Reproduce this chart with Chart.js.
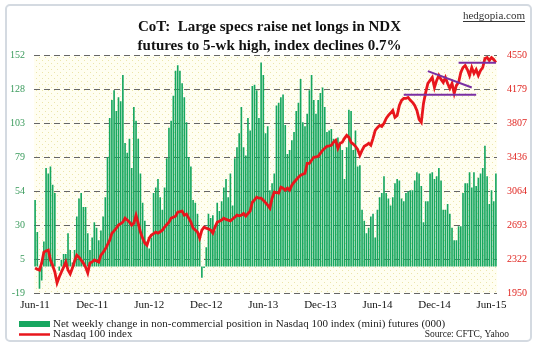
<!DOCTYPE html>
<html>
<head>
<meta charset="utf-8">
<script src="https://cdn.jsdelivr.net/npm/chart.js@4.4.1/dist/chart.umd.min.js"></script>
<style>
  html, body { margin: 0; padding: 0; background: #ffffff; }
  #wrap { width: 539px; height: 350px; }
</style>
</head>
<body>
<div id="wrap"><canvas id="cotChart" width="539" height="350"></canvas></div>
<script>
// weekly CoT report dates (Tuesdays), first one 7 Jun 2011
const firstWeek = [2011, 5, 7];

// net weekly change in non-commercial position, NDX mini futures (000)
const netSpecs = [
  48, 25, -16, -10, 18, 71, 67, 72, 59, 53,
  0, -3, 5, 9, 9, 24, 12, 3, 12, 36,
  49, 53, 43, 43, 24, 12, 21, 32, 28, 19,
  26, 36, 50, 79, 107, 120, 127, 112, 122, 119,
  138, 89, 82, 92, 71, 115, 105, 92, 67, 46,
  33, 18, 13, 21, 53, 57, 63, 50, 41, 57,
  78, 100, 105, 123, 141, 145, 141, 132, 122, 104,
  79, 72, 48, 46, 38, 21, -8, -1, 14, 38,
  35, 37, 26, 46, 40, 47, 57, 63, 50, 67,
  44, 78, 86, 96, 115, 86, 80, 107, 98, 130,
  131, 127, 107, 147, 138, 96, 101, 55, 60, 67,
  116, 118, 122, 124, 102, 81, 84, 91, 97, 112,
  118, 135, 104, 101, 110, 127, 138, 120, 110, 120,
  125, 129, 115, 97, 98, 99, 92, 89, 93, 89,
  84, 63, 86, 113, 112, 84, 98, 72, 73, 41,
  33, 24, 28, 36, 38, 21, 41, 50, 53, 65,
  53, 49, 44, 50, 60, 63, 62, 49, 47, 53,
  54, 55, 55, 62, 68, 67, 58, 32, 47, 47,
  67, 68, 63, 65, 71, 62, 41, 41, 45, 38,
  28, 19, 19, 29, 29, 53, 60, 60, 68, 57,
  68, 58, 64, 67, 71, 87, 65, 45, 55, 47,
  67
];

// Nasdaq 100 index, weekly
const ndxIndex = [
  2223, 2210, 2201, 2278, 2398, 2410, 2420, 2311, 2250, 2180,
  2060, 2125, 2180, 2234, 2289, 2201, 2158, 2223, 2300, 2365,
  2343, 2310, 2278, 2234, 2169, 2278, 2290, 2311, 2300, 2289,
  2365, 2395, 2430, 2480, 2529, 2605, 2630, 2660, 2693, 2710,
  2726, 2769, 2750, 2726, 2693, 2715, 2802, 2715, 2617, 2550,
  2496, 2474, 2551, 2584, 2600, 2617, 2605, 2620, 2638, 2671,
  2700, 2726, 2769, 2780, 2791, 2835, 2840, 2846, 2802, 2813,
  2770, 2726, 2660, 2640, 2617, 2551, 2638, 2671, 2660, 2650,
  2638, 2605, 2671, 2726, 2735, 2748, 2769, 2755, 2748, 2740,
  2760, 2780, 2802, 2795, 2802, 2820, 2791, 2820, 2846, 2944,
  2970, 2999, 2988, 2988, 2966, 2940, 2911, 2879, 2988, 3054,
  3050, 3043, 3108, 3097, 3076, 3097, 3076, 3130, 3163, 3190,
  3217, 3239, 3250, 3261, 3370, 3370, 3403, 3436, 3440, 3447,
  3479, 3512, 3534, 3556, 3560, 3567, 3600, 3621, 3534, 3589,
  3600, 3643, 3676, 3654, 3600, 3580, 3556, 3523, 3458, 3512,
  3556, 3570, 3589, 3567, 3643, 3731, 3760, 3785, 3774, 3807,
  3862, 3894, 3920, 3949, 3873, 3894, 4004, 4058, 4080, 4080,
  4091, 4060, 4037, 4004, 3949, 3850, 3818, 4026, 4146, 4244,
  4277, 4310, 4200, 4277, 4332, 4288, 4255, 4310, 4244, 4190,
  4244, 4135, 4223, 4255, 4364, 4419, 4441, 4397, 4332, 4419,
  4354, 4397, 4332, 4386, 4419, 4517, 4528, 4495, 4528, 4506,
  4473
];

// hand-drawn trend lines on the index: [week from, value, week to, value]
const supportLine = [168, 4120, 201, 4120];
const downTrendLine = [179, 4379, 199, 4200];
const topLine = [193, 4470, 210, 4470];

const leftTicks = [-19, 5, 30, 54, 79, 103, 128, 152];
const rightTicks = [1950, 2322, 2693, 3064, 3436, 3807, 4179, 4550];
const xTickLabels = ['Jun-11', 'Dec-11', 'Jun-12', 'Dec-12', 'Jun-13', 'Dec-13', 'Jun-14', 'Dec-14', 'Jun-15'];

const monthNames = ['Jan', 'Feb', 'Mar', 'Apr', 'May', 'Jun', 'Jul', 'Aug', 'Sep', 'Oct', 'Nov', 'Dec'];

const weeks = netSpecs.map((v, i) =>
  new Date(Date.UTC(firstWeek[0], firstWeek[1], firstWeek[2] + i * 7)).toISOString().slice(0, 10));

function monthLabel(iso) {
  const d = new Date(iso + 'T00:00:00Z');
  return monthNames[d.getUTCMonth()] + '-' + String(d.getUTCFullYear()).slice(2);
}

function segment(line) {
  return [{ x: weeks[line[0]], y: line[1] }, { x: weeks[line[2]], y: line[3] }];
}

const colorGreen = '#17a760';
const colorRed = '#e8161c';
const colorPurple = '#7a2fa2';

function dotPattern(ctx) {
  const c = document.createElement('canvas');
  c.width = 6; c.height = 6;
  const p = c.getContext('2d');
  p.fillStyle = '#fffef1';
  p.fillRect(0, 0, 6, 6);
  p.fillStyle = '#ece5ab';
  p.fillRect(0, 0, 1, 1);
  p.fillRect(3, 3, 1, 1);
  return ctx.createPattern(c, 'repeat');
}

// frame, dotted plot background, legend and notes
const decorations = {
  id: 'decorations',
  beforeDraw(chart) {
    const { ctx, chartArea: a, width, height } = chart;
    ctx.save();
    ctx.fillStyle = '#ffffff';
    ctx.fillRect(0, 0, width, height);
    ctx.strokeStyle = '#d4dae1';
    ctx.lineWidth = 2;
    ctx.beginPath();
    if (ctx.roundRect) ctx.roundRect(6, 5, width - 14, height - 14, 4);
    else ctx.rect(6, 5, width - 14, height - 14);
    ctx.stroke();
    ctx.fillStyle = dotPattern(ctx);
    ctx.fillRect(a.left, a.top, a.right - a.left, a.bottom - a.top);
    ctx.restore();
  },
  afterDraw(chart) {
    const { ctx } = chart;
    const ds = chart.data.datasets;
    ctx.save();
    ctx.textBaseline = 'middle';
    ctx.textAlign = 'left';
    ctx.font = '11px "Liberation Serif"';
    // legend
    ctx.fillStyle = ds[0].backgroundColor;
    ctx.fillRect(19, 321, 31, 6);
    ctx.fillStyle = '#222';
    ctx.fillText(ds[0].label, 53, 324);
    ctx.strokeStyle = ds[1].borderColor;
    ctx.lineWidth = 2.5;
    ctx.beginPath();
    ctx.moveTo(19, 334.5);
    ctx.lineTo(50, 334.5);
    ctx.stroke();
    ctx.fillText(ds[1].label, 53, 334);
    // source
    ctx.font = '9.5px "Liberation Serif"';
    ctx.textAlign = 'right';
    ctx.fillText('Source: CFTC, Yahoo', 509, 334);
    // site
    ctx.font = '11px "Liberation Serif"';
    ctx.fillStyle = '#333';
    ctx.fillText('hedgopia.com', 525, 16);
    const w = ctx.measureText('hedgopia.com').width;
    ctx.strokeStyle = '#333';
    ctx.lineWidth = 1;
    ctx.beginPath();
    ctx.moveTo(525 - w, 21.5);
    ctx.lineTo(525, 21.5);
    ctx.stroke();
    ctx.restore();
  }
};

Chart.defaults.font.family = '"Liberation Serif", "Times New Roman", serif';

new Chart(document.getElementById('cotChart').getContext('2d'), {
  type: 'bar',
  data: {
    labels: weeks,
    datasets: [{
      type: 'bar',
      label: 'Net weekly change in non-commercial position in Nasdaq 100 index (mini) futures (000)',
      data: netSpecs,
      yAxisID: 'y',
      backgroundColor: colorGreen,
      borderWidth: 0,
      barPercentage: 0.75,
      categoryPercentage: 1,
      order: 3
    }, {
      type: 'line',
      label: 'Nasdaq 100 index',
      data: ndxIndex,
      yAxisID: 'y1',
      borderColor: colorRed,
      backgroundColor: colorRed,
      borderWidth: 2.8,
      pointRadius: 0,
      tension: 0,
      order: 2
    }, {
      type: 'line', label: 'support', data: segment(supportLine), yAxisID: 'y1',
      borderColor: colorPurple, borderWidth: 2, pointRadius: 0, order: 1
    }, {
      type: 'line', label: 'trend', data: segment(downTrendLine), yAxisID: 'y1',
      borderColor: colorPurple, borderWidth: 2, pointRadius: 0, order: 1
    }, {
      type: 'line', label: 'top', data: segment(topLine), yAxisID: 'y1',
      borderColor: colorPurple, borderWidth: 2, pointRadius: 0, order: 1
    }]
  },
  options: {
    responsive: false,
    animation: false,
    layout: { padding: { top: 0, left: 0, right: 0, bottom: 32 } },
    plugins: {
      legend: { display: false },
      tooltip: { enabled: false },
      title: {
        display: true,
        text: ['CoT:  Large specs raise net longs in NDX', 'futures to 5-wk high, index declines 0.7%'],
        color: '#111',
        font: { size: 15, weight: 'bold', lineHeight: 1.25 },
        padding: { top: 18, bottom: 0 }
      }
    },
    scales: {
      x: {
        grid: { display: false, drawTicks: false },
        border: { display: false },
        ticks: {
          autoSkip: false,
          maxRotation: 0,
          padding: 6,
          color: '#111',
          font: { size: 11 },
          callback: function(value, index) {
            const lab = monthLabel(weeks[index]);
            if (xTickLabels.includes(lab) && (index === 0 || monthLabel(weeks[index - 1]) !== lab)) return lab;
            return null;
          }
        },
        afterFit: function(s) { s.height = 25; }
      },
      y: {
        position: 'left',
        min: leftTicks[0],
        max: leftTicks[leftTicks.length - 1],
        z: 1,
        grid: { color: '#666666', lineWidth: 1, drawTicks: false },
        border: { display: false, dash: [6, 4] },
        ticks: {
          padding: 9,
          color: '#3a9b5c',
          font: { size: 10 },
          callback: function(value, index) { return leftTicks[index]; }
        },
        afterBuildTicks: function(s) {
          const step = (s.max - s.min) / (leftTicks.length - 1);
          s.ticks = leftTicks.map((t, k) => ({ value: s.min + k * step }));
        },
        afterFit: function(s) { s.width = 34; }
      },
      y1: {
        position: 'right',
        min: rightTicks[0],
        max: rightTicks[rightTicks.length - 1],
        grid: { display: false, drawTicks: false },
        border: { display: false },
        ticks: {
          padding: 10,
          color: '#e0241f',
          font: { size: 10 },
          callback: function(value, index) { return rightTicks[index]; }
        },
        afterBuildTicks: function(s) {
          const step = (s.max - s.min) / (rightTicks.length - 1);
          s.ticks = rightTicks.map((t, k) => ({ value: s.min + k * step }));
        },
        afterFit: function(s) { s.width = 42; }
      }
    }
  },
  plugins: [decorations]
});
</script>
</body>
</html>
